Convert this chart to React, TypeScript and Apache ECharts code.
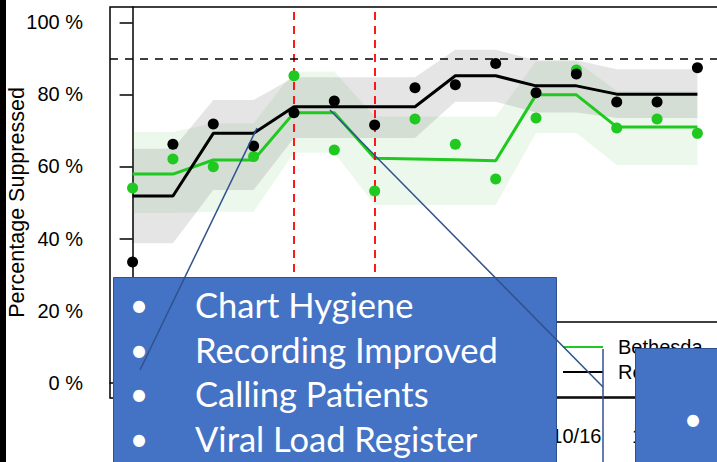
import React, { useEffect, useRef } from "react";
import * as echarts from "echarts";

const monthLabels = ["11/15", "12/15", "01/16", "02/16", "03/16", "04/16", "05/16", "06/16", "07/16", "08/16", "09/16", "10/16", "11/16", "12/16", "01/17"];
const restPoints = [33.5, 66.2, 71.8, 65.7, 74.9, 78.2, 71.5, 81.9, 82.7, 88.6, 80.5, 85.7, 77.9, 77.9, 87.4];
const bethesdaPoints = [54.0, 62.1, 59.9, 62.8, 85.2, 64.6, 53.2, 73.2, 66.2, 56.5, 73.5, 86.8, 70.7, 73.2, 69.2];
const restFit = [51.8, 51.8, 69.2, 69.2, 76.6, 76.6, 76.6, 76.6, 85.2, 85.2, 82.4, 82.4, 80.1, 80.1, 80.1];
const bethesdaFit = [57.9, 57.9, 61.8, 61.8, 74.9, 74.9, 62.3, 62.1, 61.9, 61.6, 79.9, 79.9, 71.0, 71.0, 71.0];
const restUpper = [64.9, 64.9, 78.5, 78.5, 84.8, 84.8, 84.8, 84.8, 92.4, 92.4, 89.5, 89.5, 87.0, 87.0, 87.0];
const restLower = [38.7, 38.7, 53.5, 53.5, 67.9, 67.9, 67.9, 67.9, 78.0, 78.0, 75.0, 75.0, 73.5, 73.5, 73.5];
const bethesdaUpper = [69.6, 69.6, 72.0, 72.0, 86.4, 86.4, 73.9, 73.9, 73.9, 73.9, 89.2, 89.2, 81.0, 81.0, 81.0];
const bethesdaLower = [47.1, 47.1, 47.4, 47.4, 63.8, 63.8, 49.3, 49.3, 49.3, 49.3, 69.3, 69.3, 60.4, 60.4, 60.4];
const yTicks = [0, 20, 40, 60, 80, 100];
const targetLine = 90;
const interventionIdx = [4, 6];
const calloutItems = ["Chart Hygiene", "Recording Improved", "Calling Patients", "Viral Load Register"];
const seriesNames = ["Bethesda", "Rest of Sites"];

const GREEN = "#1fc91f";
const AXIS_FONT = "Liberation Sans";
const CALLOUT_FONT = "Lato";

function band(name: string, upper: number[], lower: number[], fill: string, z: number) {
  return {
    type: "custom",
    name,
    data: [[0, 0]],
    silent: true,
    z,
    renderItem: (_params: any, api: any) => {
      const pts: number[][] = [];
      for (let i = 0; i < upper.length; i++) pts.push(api.coord([i, upper[i]]));
      for (let i = lower.length - 1; i >= 0; i--) pts.push(api.coord([i, lower[i]]));
      return { type: "polygon", shape: { points: pts }, style: { fill } };
    },
  };
}

const toXY = (arr: number[]) => arr.map((v, i) => [i, v]);

export default function App() {
  const ref = useRef<HTMLDivElement>(null);
  useEffect(() => {
    if (!ref.current) return;
    const chart = echarts.init(ref.current, undefined, { renderer: "svg" });
    const oddIdx = monthLabels.map((_, i) => i).filter((i) => i % 2 === 1);
    const lineH = 44.6;
    const baseY = 304.5;
    const fs = 34.5;
    const graphic: any[] = [
      { type: "rect", z: 100, shape: { x: 0, y: 0, width: 6, height: 462 }, style: { fill: "#000" } },
      {
        type: "rect", z: 100,
        shape: { x: 113.5, y: 277.5, width: 443, height: 200 },
        style: { fill: "#4472C4", stroke: "#2F528F", lineWidth: 1 },
      },
      {
        type: "rect", z: 100,
        shape: { x: 635.5, y: 348.5, width: 100, height: 130 },
        style: { fill: "#4472C4", stroke: "#2F528F", lineWidth: 1 },
      },
    ];
    calloutItems.forEach((t, k) => {
      const y = baseY + k * lineH;
      graphic.push({
        type: "text", z: 101,
        style: { text: "•", x: 139, y, fill: "#fff", fontSize: 32, fontFamily: CALLOUT_FONT, align: "center", verticalAlign: "middle", textAlign: "center", textVerticalAlign: "middle" },
      });
      graphic.push({
        type: "text", z: 101,
        style: { text: t, x: 195, y, fill: "#fff", fontSize: fs, fontFamily: CALLOUT_FONT, align: "left", verticalAlign: "middle", textAlign: "left", textVerticalAlign: "middle" },
      });
    });
    graphic.push({
      type: "text", z: 101,
      style: { text: "•", x: 693, y: 418, fill: "#fff", fontSize: 32, fontFamily: CALLOUT_FONT, align: "center", verticalAlign: "middle", textAlign: "center", textVerticalAlign: "middle" },
    });
    const connector = { stroke: "#2F528F", lineWidth: 1.5 };
    graphic.push({ type: "line", z: 102, shape: { x1: 140, y1: 370, x2: 257, y2: 128 }, style: connector });
    graphic.push({ type: "line", z: 102, shape: { x1: 330, y1: 110, x2: 603, y2: 387 }, style: connector });
    graphic.push({ type: "line", z: 102, shape: { x1: 603, y1: 349, x2: 603, y2: 470 }, style: connector });

    const option: any = {
      animation: false,
      backgroundColor: "#fff",
      grid: {
        left: 110, top: 7, width: 610, height: 391, show: true,
        borderColor: "#000", borderWidth: 1.5, backgroundColor: "transparent",
        containLabel: false, outerBoundsMode: "none",
      },
      xAxis: {
        type: "value", min: -0.56, max: 14.56,
        splitLine: { show: false },
        axisLine: { show: true, lineStyle: { color: "#000", width: 1.5 } },
        axisTick: { show: true, length: 12, customValues: oddIdx, lineStyle: { color: "#000", width: 1.5 } },
        axisLabel: { customValues: oddIdx, formatter: (v: number) => monthLabels[Math.round(v)] ?? "", fontSize: 20, color: "#000", fontFamily: AXIS_FONT, margin: 28, hideOverlap: false },
      },
      yAxis: {
        type: "value", min: -4.3, max: 104.3,
        name: "Percentage Suppressed", nameLocation: "middle", nameGap: 82, nameMoveOverlap: false,
        nameTextStyle: { fontSize: 21.5, color: "#000", fontFamily: AXIS_FONT },
        splitLine: { show: false },
        axisLine: { show: true, lineStyle: { color: "#000", width: 1.5 } },
        axisTick: { show: true, length: 13, customValues: yTicks, lineStyle: { color: "#000", width: 1.5 } },
        axisLabel: { customValues: yTicks, formatter: (v: number) => `${v} %`, fontSize: 20, color: "#000", fontFamily: AXIS_FONT, margin: 27 },
      },
      legend: {
        orient: "vertical", left: 545, top: 322,
        itemWidth: 40, itemHeight: 2, itemGap: 5,
        icon: "rect",
        padding: [15, 10, 15, 18],
        borderColor: "#000", borderWidth: 1.5, backgroundColor: "#fff", borderRadius: 0,
        textStyle: { fontSize: 20, lineHeight: 20, color: "#000", fontFamily: AXIS_FONT, padding: [0, 0, 0, 10] },
        data: seriesNames.map((n) => ({ name: n, icon: "rect" })),
        selectedMode: false,
      },
      graphic,
      series: [
        band("BethesdaBand", bethesdaUpper, bethesdaLower, "rgba(60,180,40,0.09)", 1),
        band("RestBand", restUpper, restLower, "rgba(0,0,0,0.1)", 1),
        {
          type: "line", name: seriesNames[0], data: toXY(bethesdaFit), symbol: "none", showSymbol: false, z: 3,
          lineStyle: { color: GREEN, width: 3 }, itemStyle: { color: GREEN },
          markLine: {
            silent: true, symbol: ["none", "none"], label: { show: false },
            data: [
              ...interventionIdx.map((i) => ({ xAxis: i, lineStyle: { color: "#ff0000", type: [8, 6], width: 1.8 } })),
              { yAxis: targetLine, lineStyle: { color: "#000", type: [8, 7], width: 1.5 } },
            ],
          },
        },
        {
          type: "line", name: seriesNames[1], data: toXY(restFit), symbol: "none", showSymbol: false, z: 4,
          lineStyle: { color: "#000", width: 3 }, itemStyle: { color: "#000" },
        },
        {
          type: "scatter", name: "Bethesda observed", data: toXY(bethesdaPoints), symbolSize: 11, z: 5,
          itemStyle: { color: GREEN, opacity: 1 },
        },
        {
          type: "scatter", name: "Rest observed", data: toXY(restPoints), symbolSize: 11, z: 6,
          itemStyle: { color: "#000", opacity: 1 },
        },
      ],
    };
    chart.setOption(option);
    return () => chart.dispose();
  }, []);
  return <div ref={ref} style={{ position: "fixed", left: 0, top: 0, width: 717, height: 462 }} />;
}
